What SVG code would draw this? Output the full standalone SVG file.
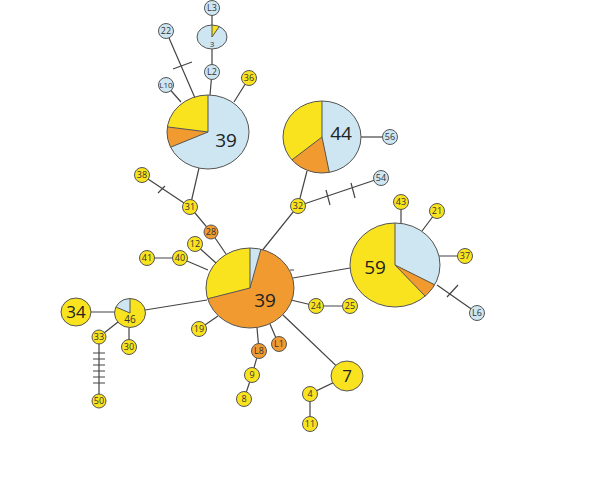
<svg xmlns="http://www.w3.org/2000/svg" width="600" height="495" viewBox="0 0 600 495">
<style>
.y{fill:#F9E21E}.b{fill:#CDE6F2}.o{fill:#F09A30}
.n{stroke:#555;stroke-width:1}
.ol{fill:none;stroke:#555;stroke-width:1}
.ln{stroke:#444;stroke-width:1.2;fill:none}
.t{font-family:"Open Sans","Liberation Sans",sans-serif;font-size:9px;fill:#333;text-anchor:middle}
.big{font-family:"Open Sans","Liberation Sans",sans-serif;font-size:19px;fill:#222;text-anchor:middle}
.mid{font-family:"Open Sans","Liberation Sans",sans-serif;font-size:17px;fill:#222;text-anchor:middle}
</style>
<rect width="600" height="495" fill="#fff"/>
<g id="connectors">
<path class="ln" d="M212,8V25M212,49V72M212,72L210,95"/>
<path class="ln" d="M166,31L195,98M173,69L192,62"/>
<path class="ln" d="M166,85L181,102M249,78L234,102"/>
<path class="ln" d="M199,168L190,207M142,175L190,207M158,193L165,186"/>
<path class="ln" d="M190,207L211,232L226,254M195,244L216,263M147,258H180L208,270M199,329L218,316"/>
<path class="ln" d="M145,310L207,300M76,312H115M99,337L118,322M129,347V328M99,337V401"/>
<path class="ln" d="M93,353H105M93,359H105M93,365H105M93,371H105M93,377H105M93,383H105"/>
<path class="ln" d="M257,328L259,350L252,375L244,399M270,324L279,345"/>
<path class="ln" d="M283,315L347,376L310,394V424"/>
<path class="ln" d="M291,300L316,306H350"/>
<path class="ln" d="M293,278L350,268M290,270H294"/>
<path class="ln" d="M261,252L298,206L307,171M298,206L381,178M326,190L330,205M351,183L355,198"/>
<path class="ln" d="M361,137H390"/>
<path class="ln" d="M401,202V223M437,211L422,231M465,256H439M437,285L477,313M447,297L458,285"/>
</g>
<g id="hapTL">
<ellipse class="b" cx="208" cy="132" rx="41" ry="37"/>
<path class="y" d="M208,132L167.4,126.9A41,37 0 0,1 208,95Z"/>
<path class="o" d="M208,132L170.6,147.2A41,37 0 0,1 167.4,126.9Z"/>
<path class="ol" d="M208,95V132L167.4,126.9M208,132L170.6,147.2"/>
<ellipse class="ol" cx="208" cy="132" rx="41" ry="37"/>
<text class="big" x="226" y="147">39</text>
</g>
<g id="hap3">
<ellipse class="b" cx="212" cy="37" rx="15" ry="12"/>
<path class="y" d="M212,37L212,25A15,12 0 0,1 219.3,26.5Z"/>
<path class="ol" d="M212,25V37L219.3,26.5"/>
<ellipse class="ol" cx="212" cy="37" rx="15" ry="12"/>
<text class="t" x="212" y="47" style="font-size:8px">3</text>
</g>
<g id="hap44">
<ellipse class="y" cx="322" cy="137" rx="39" ry="36"/>
<path class="b" d="M322,137L322,101A39,36 0 0,1 329.3,172.4Z"/>
<path class="o" d="M322,137L329.3,172.4A39,36 0 0,1 291.9,159.9Z"/>
<path class="ol" d="M322,101V137L329.3,172.4M322,137L291.9,159.9"/>
<ellipse class="ol" cx="322" cy="137" rx="39" ry="36"/>
<text class="big" x="341" y="140">44</text>
</g>
<g id="hap59">
<ellipse class="y" cx="395" cy="265" rx="45" ry="42"/>
<path class="b" d="M395,265L395,223A45,42 0 0,1 434.7,284.8Z"/>
<path class="o" d="M395,265L434.7,284.8A45,42 0 0,1 425.2,296.2Z"/>
<path class="ol" d="M395,223V265L434.7,284.8M395,265L425.2,296.2"/>
<ellipse class="ol" cx="395" cy="265" rx="45" ry="42"/>
<text class="big" x="375" y="274">59</text>
</g>
<g id="hapC">
<ellipse class="o" cx="250" cy="288" rx="44" ry="40"/>
<path class="y" d="M250,288L207.6,298.8A44,40 0 0,1 250,248Z"/>
<path class="b" d="M250,288L250,248A44,40 0 0,1 260.9,249.2Z"/>
<path class="ol" d="M207.6,298.8L250,288V248M250,288L260.9,249.2"/>
<ellipse class="ol" cx="250" cy="288" rx="44" ry="40"/>
<text class="big" x="265" y="307">39</text>
</g>
<g id="hap46">
<ellipse class="y" cx="130" cy="313" rx="15.5" ry="14.5"/>
<path class="b" d="M130,313L115.9,307A15.5,14.5 0 0,1 130,298.5Z"/>
<path class="ol" d="M115.9,307L130,313V298.5"/>
<ellipse class="ol" cx="130" cy="313" rx="15.5" ry="14.5"/>
<text class="t" x="130" y="323" style="font-size:10px">46</text>
</g>
<g id="hap34"><ellipse class="y n" cx="76" cy="312" rx="15" ry="14"/><text class="mid" x="76" y="318">34</text></g>
<g id="hap7"><ellipse class="y n" cx="347" cy="376" rx="16" ry="15"/><text class="mid" x="347" y="382">7</text></g>
<g id="hL3"><circle class="b n" cx="212" cy="8" r="7.5"/><text class="t" x="212" y="11">L3</text></g>
<g id="hL2"><circle class="b n" cx="212" cy="72" r="7.5"/><text class="t" x="212" y="75">L2</text></g>
<g id="h22"><circle class="b n" cx="166" cy="31" r="7.5"/><text class="t" x="166" y="34">22</text></g>
<g id="hL10"><circle class="b n" cx="166" cy="85" r="7.5"/><text class="t" x="166" y="88" style="font-size:8px">L10</text></g>
<g id="h36"><circle class="y n" cx="249" cy="78" r="7.5"/><text class="t" x="249" y="81">36</text></g>
<g id="h38"><circle class="y n" cx="142" cy="175" r="7.5"/><text class="t" x="142" y="178">38</text></g>
<g id="h31"><circle class="y n" cx="190" cy="207" r="7.5"/><text class="t" x="190" y="210">31</text></g>
<g id="h28"><circle class="o n" cx="211" cy="232" r="7"/><text class="t" x="211" y="235">28</text></g>
<g id="h12"><circle class="y n" cx="195" cy="244" r="7.5"/><text class="t" x="195" y="247">12</text></g>
<g id="h41"><circle class="y n" cx="147" cy="258" r="7.5"/><text class="t" x="147" y="261">41</text></g>
<g id="h40"><circle class="y n" cx="180" cy="258" r="7.5"/><text class="t" x="180" y="261">40</text></g>
<g id="h19"><circle class="y n" cx="199" cy="329" r="7.5"/><text class="t" x="199" y="332">19</text></g>
<g id="h33"><circle class="y n" cx="99" cy="337" r="7"/><text class="t" x="99" y="340">33</text></g>
<g id="h30"><circle class="y n" cx="129" cy="347" r="7.5"/><text class="t" x="129" y="350">30</text></g>
<g id="h50"><circle class="y n" cx="99" cy="401" r="7"/><text class="t" x="99" y="404">50</text></g>
<g id="hL8"><circle class="o n" cx="259" cy="351" r="7.5"/><text class="t" x="259" y="354">L8</text></g>
<g id="hL1"><circle class="o n" cx="279" cy="344" r="7.5"/><text class="t" x="279" y="347">L1</text></g>
<g id="h9"><circle class="y n" cx="252" cy="375" r="7.5"/><text class="t" x="252" y="378">9</text></g>
<g id="h8"><circle class="y n" cx="244" cy="399" r="7.5"/><text class="t" x="244" y="402">8</text></g>
<g id="h4"><circle class="y n" cx="310" cy="394" r="7.5"/><text class="t" x="310" y="397">4</text></g>
<g id="h11"><circle class="y n" cx="310" cy="424" r="7.5"/><text class="t" x="310" y="427">11</text></g>
<g id="h24"><circle class="y n" cx="316" cy="306" r="7.5"/><text class="t" x="316" y="309">24</text></g>
<g id="h25"><circle class="y n" cx="350" cy="306" r="7.5"/><text class="t" x="350" y="309">25</text></g>
<g id="h32"><circle class="y n" cx="298" cy="206" r="7.5"/><text class="t" x="298" y="209">32</text></g>
<g id="h54"><circle class="b n" cx="381" cy="178" r="7.5"/><text class="t" x="381" y="181">54</text></g>
<g id="h56"><circle class="b n" cx="390" cy="137" r="7.5"/><text class="t" x="390" y="140">56</text></g>
<g id="h43"><circle class="y n" cx="401" cy="202" r="7.5"/><text class="t" x="401" y="205">43</text></g>
<g id="h21"><circle class="y n" cx="437" cy="211" r="7.5"/><text class="t" x="437" y="214">21</text></g>
<g id="h37"><circle class="y n" cx="465" cy="256" r="7.5"/><text class="t" x="465" y="259">37</text></g>
<g id="hL6"><circle class="b n" cx="477" cy="313" r="7.5"/><text class="t" x="477" y="316">L6</text></g>
</svg>
